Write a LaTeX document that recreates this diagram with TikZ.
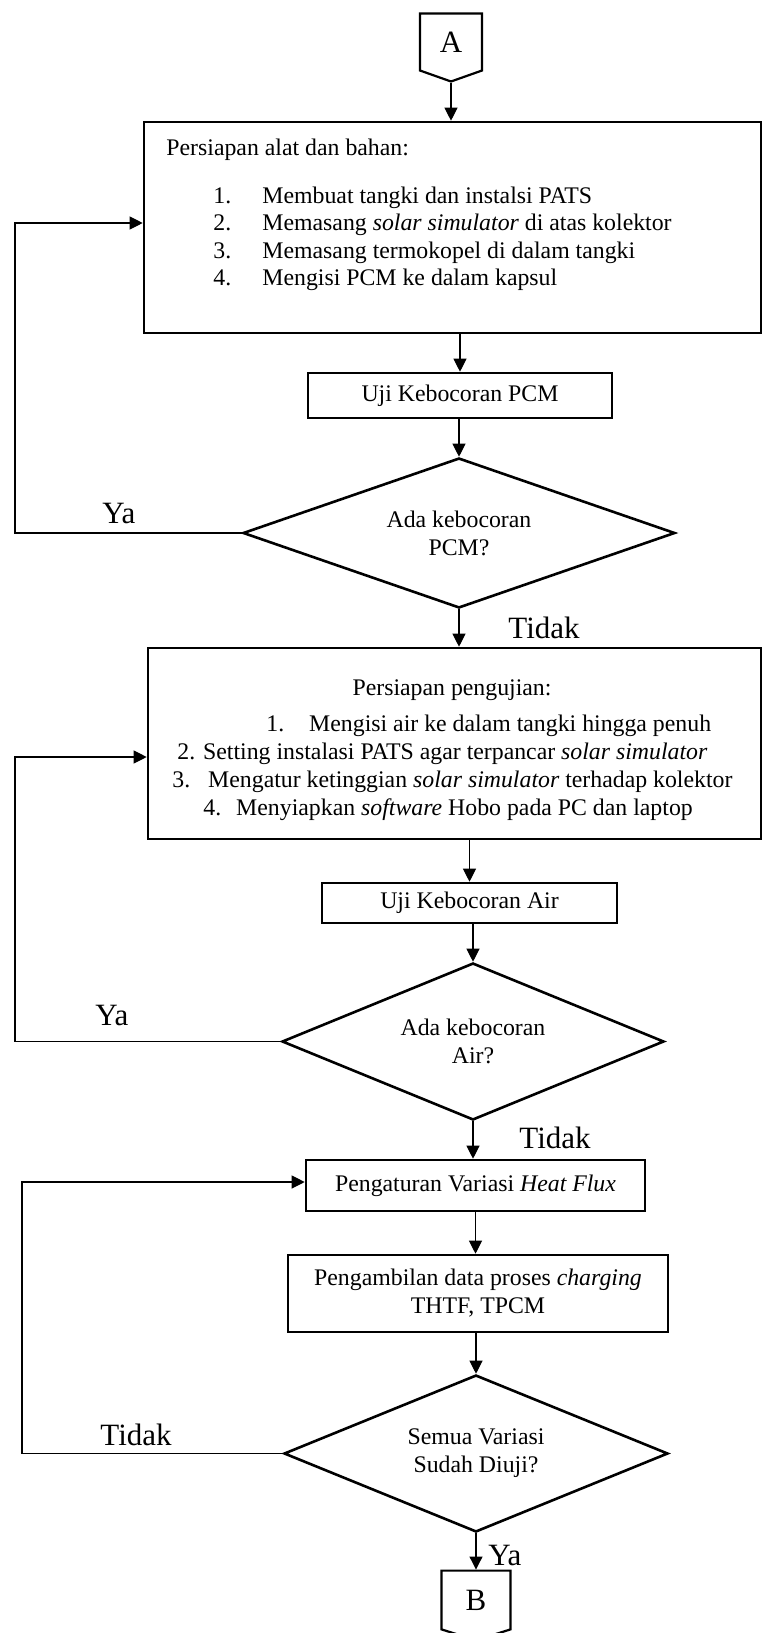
\documentclass[tikz,border=0pt]{standalone}
\usepackage{fontspec}
\setmainfont{Liberation Serif}
\usetikzlibrary{arrows.meta}
\usetikzlibrary{shapes.geometric}
\usetikzlibrary{shapes.symbols}
\tikzset{>={Triangle[length=6.5pt,width=6.5pt]}}
\newcommand{\bodyfont}{\fontsize{11.9}{14}\selectfont}
\newcommand{\labfont}{\fontsize{15.5}{18}\selectfont}

\begin{document}
\begin{tikzpicture}[x=0.5pt,y=-0.5pt,
	box/.style={draw,rectangle,line width=1.3pt,inner sep=0pt,font=\bodyfont,align=center},
	decision/.style={draw,diamond,line width=1.3pt,inner sep=0pt,font=\bodyfont,align=center},
	offpage/.style={draw,signal,signal to=south,line width=1.1pt,inner sep=0pt,font=\labfont},
	flow/.style={line width=0.55pt},
	txt/.style={font=\bodyfont,inner sep=0pt,anchor=base west},
	lab/.style={font=\labfont,inner sep=0pt,anchor=base west}]
	\useasboundingbox (0,0) rectangle (762,1633);

	% konektor awal
	\node[offpage,signal pointer angle=141,minimum width=31pt,minimum height=30.5pt] (A) at (451,42) {A};

	% persiapan alat dan bahan
	\node[box,minimum width=308.5pt,minimum height=105.5pt] (prep) at (452.5,227.5) {};
	\node[txt] (prephead) at (166,155) {Persiapan alat dan bahan:};
	\node[txt] (n1) at (213,203) {1.};
	\node[txt] (t1) at (262,203) {Membuat tangki dan instalsi PATS};
	\node[txt] (n2) at (213,230.5) {2.};
	\node[txt] (t2) at (262,230.5) {Memasang \textit{solar simulator} di atas kolektor};
	\node[txt] (n3) at (213,258) {3.};
	\node[txt] (t3) at (262,258) {Memasang termokopel di dalam tangki};
	\node[txt] (n4) at (213,285.5) {4.};
	\node[txt] (t4) at (262,285.5) {Mengisi PCM ke dalam kapsul};

	\node[box,minimum width=152pt,minimum height=22.5pt] (ujipcm) at (460,395.5) {Uji Kebocoran PCM};
	\node[decision,shape aspect=2.88,minimum width=216pt,minimum height=75pt] (dpcm) at (459,533) {Ada kebocoran\\PCM?};

	% persiapan pengujian
	\node[box,minimum width=306.5pt,minimum height=95.5pt] (prepuji) at (454.5,743.5) {};
	\node[font=\bodyfont,inner sep=0pt,anchor=base] (ujihead) at (452,695) {Persiapan pengujian:};
	\node[txt] (u1) at (266,731) {1.\hspace{12.5pt}Mengisi air ke dalam tangki hingga penuh};
	\node[txt] (u2) at (177,759) {2. Setting instalasi PATS agar terpancar \textit{solar simulator}};
	\node[txt] (u3) at (172,787) {3.\hspace{9pt}Mengatur ketinggian \textit{solar simulator} terhadap kolektor};
	\node[txt] (u4) at (203,815) {4.\hspace{7.5pt}Menyiapkan \textit{software} Hobo pada PC dan laptop};

	\node[box,minimum width=147.5pt,minimum height=20pt] (ujiair) at (469.5,903) {Uji Kebocoran Air};
	\node[decision,shape aspect=2.43,minimum width=191pt,minimum height=78.5pt] (dair) at (473,1041.5) {Ada kebocoran\\Air?};

	\node[box,minimum width=169.5pt,minimum height=25.5pt] (atur) at (475.5,1185.5) {Pengaturan Variasi \textit{Heat Flux}};
	\node[box,minimum width=190pt,minimum height=38.5pt] (ambil) at (478,1293.5) {Pengambilan data proses \textit{charging}\\THTF, TPCM};
	\node[decision,shape aspect=2.45,minimum width=192pt,minimum height=78.5pt] (dsemua) at (476,1453.5) {Semua Variasi\\Sudah Diuji?};

	% konektor akhir
	\node[offpage,signal pointer angle=145,minimum width=34.5pt,minimum height=31pt] (B) at (476,1600) {B};

	% alur utama
	\draw[flow,->] (A.south) -- (A.south |- prep.north);
	\draw[flow,->] (ujipcm.north |- prep.south) -- (ujipcm.north);
	\draw[flow,->] (dpcm.north |- ujipcm.south) -- (dpcm.north);
	\draw[flow,->] (dpcm.south) -- (dpcm.south |- prepuji.north);
	\draw[flow,->] (ujiair.north |- prepuji.south) -- (ujiair.north);
	\draw[flow,->] (dair.north |- ujiair.south) -- (dair.north);
	\draw[flow,->] (dair.south) -- (dair.south |- atur.north);
	\draw[flow,->] (atur.south) -- (atur.south |- ambil.north);
	\draw[flow,->] (dsemua.north |- ambil.south) -- (dsemua.north);
	\draw[flow,->] (dsemua.south) -- (dsemua.south |- B.north);

	% umpan balik
	\coordinate (back1) at (15,223);
	\coordinate (back2) at (15,757);
	\coordinate (back3) at (22,1182);
	\draw[flow,->] (dpcm.west) -| (back1) -- (back1 -| prep.west);
	\draw[flow,->] (dair.west) -| (back2) -- (back2 -| prepuji.west);
	\draw[flow,->] (dsemua.west) -| (back3) -- (back3 -| atur.west);

	\node[lab] (ya1) at (102,523) {Ya};
	\node[lab] (tidak1) at (508,638) {Tidak};
	\node[lab] (ya2) at (95,1025) {Ya};
	\node[lab] (tidak2) at (519,1148) {Tidak};
	\node[lab] (tidak3) at (100,1445) {Tidak};
	\node[lab] (ya3) at (488,1565) {Ya};
\end{tikzpicture}
\end{document}
